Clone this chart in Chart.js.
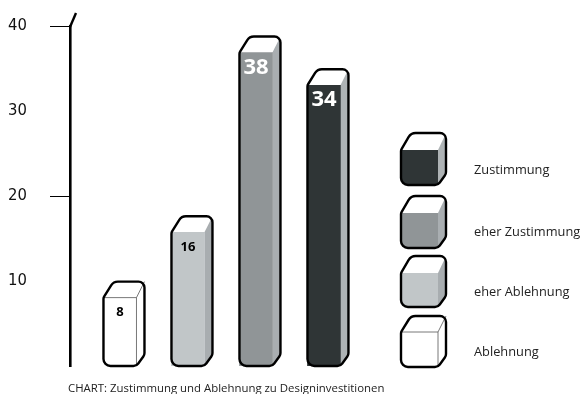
<!DOCTYPE html>
<html>
<head>
<meta charset="utf-8">
<style>
  html, body { margin: 0; padding: 0; background: #fff; }
  canvas { display: block; }
</style>
<script src="https://cdn.jsdelivr.net/npm/chart.js@4"></script>
</head>
<body>
<canvas id="chart" width="583" height="394"></canvas>
<script>
const categories = ['Ablehnung', 'eher Ablehnung', 'eher Zustimmung', 'Zustimmung'];
const percentages = [8, 16, 38, 34];
const frontColors = ['#ffffff', '#c1c6c8', '#909597', '#2f3536'];
const sideColors = ['#ffffff', '#a8adb0', '#a9aeb1', '#aeb3b5'];
const labelColors = ['#000000', '#000000', '#ffffff', '#ffffff'];
const labelSizes = [13, 13, 22, 22];
const yTicks = [10, 20, 30, 40];
const markedTicks = [20, 40];
const captionText = 'CHART: Zustimmung und Ablehnung zu Designinvestitionen';

const FONT = '"Open Sans", sans-serif';
const BLOCK_FRONT = 33;
const BLOCK_SIDE = 8;
const BLOCK_TOP = 16;

// outline of a block: front face plus the top and right faces behind it
function blockPath(ctx, left, top, frontTop, bottom, frontRight, right) {
  ctx.beginPath();
  ctx.moveTo(left, (frontTop + bottom) / 2);
  ctx.arcTo(left, frontTop, left + 10, top, 5);
  ctx.arcTo(left + 10, top, right, top, 8);
  ctx.arcTo(right, top, right, bottom - 11, 6);
  ctx.arcTo(right, bottom - 11, frontRight, bottom, 6);
  ctx.arcTo(frontRight, bottom, left, bottom, 6);
  ctx.arcTo(left, bottom, left, frontTop, 7);
  ctx.closePath();
}

function drawBlockBack(ctx, left, top, frontTop, bottom, frontRight, right, side) {
  ctx.save();
  blockPath(ctx, left, top, frontTop, bottom, frontRight, right);
  ctx.fillStyle = '#ffffff';
  ctx.fill();
  ctx.clip();
  ctx.fillStyle = side;
  ctx.beginPath();
  ctx.moveTo(frontRight, frontTop);
  ctx.lineTo(right + 2, top - 4);
  ctx.lineTo(right + 2, bottom);
  ctx.lineTo(frontRight, bottom);
  ctx.closePath();
  ctx.fill();
  ctx.restore();
}

function drawBlockEdges(ctx, left, top, frontTop, bottom, frontRight, right, plain) {
  if (plain) {
    // white blocks have no fill contrast so the edges are drawn in
    ctx.strokeStyle = '#555555';
    ctx.lineWidth = 0.8;
    ctx.beginPath();
    ctx.moveTo(left, frontTop);
    ctx.lineTo(frontRight, frontTop);
    ctx.lineTo(right, top);
    ctx.moveTo(frontRight, frontTop);
    ctx.lineTo(frontRight, bottom);
    ctx.stroke();
  }
  blockPath(ctx, left, top, frontTop, bottom, frontRight, right);
  ctx.strokeStyle = '#000000';
  ctx.lineWidth = 2.4;
  ctx.stroke();
}

const blockPlugin = {
  id: 'blocks',
  beforeDatasetsDraw(chart) {
    const ctx = chart.ctx;
    chart.getDatasetMeta(0).data.forEach((bar, i) => {
      const left = bar.x - BLOCK_FRONT / 2;
      const frontRight = left + BLOCK_FRONT;
      drawBlockBack(ctx, left, bar.y - BLOCK_TOP, bar.y, bar.base, frontRight, frontRight + BLOCK_SIDE, sideColors[i]);
    });
  },
  afterDatasetsDraw(chart) {
    const ctx = chart.ctx;
    chart.getDatasetMeta(0).data.forEach((bar, i) => {
      const left = bar.x - BLOCK_FRONT / 2;
      const frontRight = left + BLOCK_FRONT;
      drawBlockEdges(ctx, left, bar.y - BLOCK_TOP, bar.y, bar.base, frontRight, frontRight + BLOCK_SIDE, frontColors[i] === '#ffffff');
      ctx.fillStyle = labelColors[i];
      ctx.font = 'bold ' + labelSizes[i] + 'px ' + FONT;
      ctx.textAlign = 'center';
      ctx.textBaseline = 'middle';
      ctx.fillText(String(percentages[i]), bar.x, bar.y + 15);
    });
  },
  afterDraw(chart) {
    const ctx = chart.ctx;
    const area = chart.chartArea;

    // short slanted end on top of the axis
    ctx.strokeStyle = '#000000';
    ctx.lineWidth = 2.4;
    ctx.beginPath();
    ctx.moveTo(area.left, area.top + 1);
    ctx.lineTo(area.left + 6, area.top - 13);
    ctx.stroke();

    // legend column, top to bottom is the reverse of the bars
    const tops = [133, 196, 256, 316];
    const fronts = [150, 213, 273, 332];
    const bottoms = [185, 248, 307, 367];
    const textYs = [170, 232, 292, 352];
    for (let n = 0; n < 4; n++) {
      const i = 3 - n;
      drawBlockBack(ctx, 401, tops[n], fronts[n], bottoms[n], 438, 446, sideColors[i]);
      // front face is clipped so its corners stay inside the rounded outline
      ctx.save();
      blockPath(ctx, 401, tops[n], fronts[n], bottoms[n], 438, 446);
      ctx.clip();
      ctx.fillStyle = frontColors[i];
      ctx.fillRect(401, fronts[n], 37, bottoms[n] - fronts[n]);
      ctx.restore();
      drawBlockEdges(ctx, 401, tops[n], fronts[n], bottoms[n], 438, 446, frontColors[i] === '#ffffff');
      ctx.fillStyle = '#222222';
      ctx.font = '12.8px ' + FONT;
      ctx.textAlign = 'left';
      ctx.textBaseline = 'middle';
      ctx.fillText(categories[i], 474, textYs[n]);
    }

    ctx.fillStyle = '#222222';
    ctx.font = '11.4px ' + FONT;
    ctx.textAlign = 'left';
    ctx.textBaseline = 'middle';
    ctx.fillText(captionText, 68, 389);
  }
};

new Chart(document.getElementById('chart'), {
  type: 'bar',
  data: {
    datasets: [{
      data: percentages.map((v, i) => ({ x: i + 1, y: v })),
      backgroundColor: frontColors,
      borderWidth: 0,
      borderRadius: { bottomLeft: 7 },
      barThickness: BLOCK_FRONT,
      yAxisID: 'yBars',
      base: -0.37
    }]
  },
  options: {
    responsive: false,
    animation: false,
    layout: { padding: { top: 26, bottom: 28, right: 224.5, left: 0 } },
    plugins: { legend: { display: false }, tooltip: { enabled: false } },
    scales: {
      x: { type: 'linear', display: false, offset: false, min: 0.265, max: 4.508 },
      y: {
        position: 'left',
        min: 0,
        max: 40,
        afterFit(scale) {
          scale.width = 70;
          scale.paddingTop = 0;
          scale.paddingBottom = 0;
        },
        afterBuildTicks(scale) { scale.ticks = yTicks.map(v => ({ value: v })); },
        border: { display: true, color: '#000000', width: 2.6 },
        grid: {
          drawOnChartArea: false,
          tickLength: 20,
          tickWidth: 1,
          tickColor: c => markedTicks.includes(c.tick.value) ? '#000000' : 'transparent'
        },
        ticks: {
          padding: 23,
          color: '#111111',
          font: { family: '"DejaVu Sans Condensed", ' + FONT, size: 16.5 }
        }
      },
      // bars stand on this slightly offset scale so their fronts sit a little
      // below the printed axis values at the top end
      yBars: { display: false, min: -0.37, max: 41.25 }
    }
  },
  plugins: [blockPlugin]
});
</script>
</body>
</html>
